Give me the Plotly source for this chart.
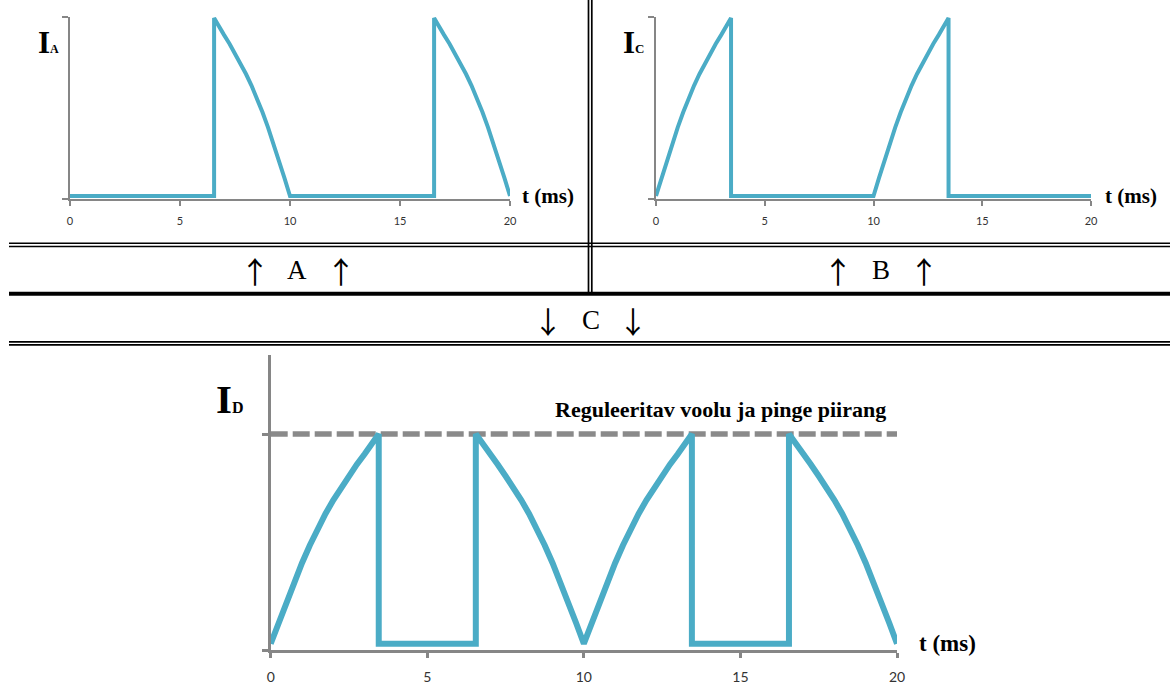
import plotly.graph_objects as go

# ---- waveform data (time in ms, current in relative units) ----
# Rising part of a conduction interval (start of half-period up to cut-off)
rise_t = [0.0, 0.25, 0.5, 0.75, 1.0, 1.25, 1.5, 1.75, 2.0, 2.25, 2.5, 2.75, 3.0, 3.25, 3.45]
rise_i = [0.0, 0.10, 0.20, 0.295, 0.385, 0.47, 0.55, 0.62, 0.685, 0.745, 0.80, 0.855, 0.905, 0.955, 1.0]
# Falling part of a conduction interval (firing angle up to end of half-period)
fall_t = [6.55, 6.75, 7.0, 7.25, 7.5, 7.75, 8.0, 8.25, 8.5, 8.75, 9.0, 9.25, 9.5, 9.75, 10.0]
fall_i = [1.0, 0.955, 0.905, 0.855, 0.80, 0.745, 0.685, 0.62, 0.55, 0.47, 0.385, 0.295, 0.20, 0.10, 0.0]

# Second half-period (10–20 ms) of the same waveforms
rise2_t = [10.0, 10.25, 10.5, 10.75, 11.0, 11.25, 11.5, 11.75, 12.0, 12.25, 12.5, 12.75, 13.0, 13.25, 13.45]
fall2_t = [16.55, 16.75, 17.0, 17.25, 17.5, 17.75, 18.0, 18.25, 18.5, 18.75, 19.0, 19.25, 19.5, 19.75, 20.0]

# Adjustable current / voltage limit level
limit_t = [0.0, 20.0]
limit_i = [1.0, 1.0]

x_ticks = [0, 5, 10, 15, 20]
x_tick_text = ["0", "5", "10", "15", "20"]

# Thyristor A: off, then the falling conduction part, in both half-periods
ia_t = [0.0] + fall_t[:1] + fall_t + fall2_t[:1] + fall2_t
ia_i = [0.0] + [0.0] + fall_i + [0.0] + fall_i
# Thyristor C: the rising conduction part, then off, in both half-periods
ic_t = rise_t + rise_t[-1:] + rise2_t + rise2_t[-1:] + [20.0]
ic_i = rise_i + [0.0] + rise_i + [0.0] + [0.0]
# Load current D: both thyristors together
id_t = rise_t + rise_t[-1:] + fall_t[:1] + fall_t + rise2_t[1:] + rise2_t[-1:] + fall2_t[:1] + fall2_t
id_i = rise_i + [0.0] + [0.0] + fall_i + rise_i[1:] + [0.0] + [0.0] + fall_i

W, H = 1170, 687
WAVE = "#4BACC6"
AXIS = "#868686"
SERIF = "Liberation Serif"
SANS = "Lato"


def px(x):
    return x / W


def py(y):
    return 1 - y / H


fig = go.Figure()

fig.add_trace(go.Scatter(x=ia_t, y=ia_i, mode="lines", xaxis="x", yaxis="y",
                         line=dict(color=WAVE, width=4), hoverinfo="skip"))
fig.add_trace(go.Scatter(x=ic_t, y=ic_i, mode="lines", xaxis="x2", yaxis="y2",
                         line=dict(color=WAVE, width=4), hoverinfo="skip"))
fig.add_trace(go.Scatter(x=limit_t, y=limit_i, mode="lines", xaxis="x3", yaxis="y3",
                         line=dict(color="#8A8A8A", width=5.5, dash="17px,5px"),
                         hoverinfo="skip"))
fig.add_trace(go.Scatter(x=id_t, y=id_i, mode="lines", xaxis="x3", yaxis="y3",
                         line=dict(color=WAVE, width=6), hoverinfo="skip"))


def x_axis(domain, anchor, size, standoff, lw):
    return dict(domain=domain, anchor=anchor, range=[0, 20], showgrid=False,
                zeroline=False, showline=True, linecolor=AXIS, linewidth=lw,
                tickmode="array", tickvals=x_ticks, ticktext=x_tick_text,
                ticks="outside", ticklen=5, tickwidth=lw, tickcolor=AXIS,
                ticklabelstandoff=standoff, automargin=False,
                tickfont=dict(family=SANS, size=size, color="#333333"),
                fixedrange=True)


def y_axis(domain, anchor, rng, tickvals, lw):
    return dict(domain=domain, anchor=anchor, range=rng, showgrid=False,
                zeroline=False, showline=True, linecolor=AXIS, linewidth=lw,
                tickmode="array", tickvals=tickvals, showticklabels=False,
                ticks="outside", ticklen=6, tickwidth=lw, tickcolor=AXIS,
                automargin=False, fixedrange=True)


top_dom = [py(199), py(16.7)]
bot_dom = [py(650), py(355)]

fig.update_layout(
    width=W, height=H,
    margin=dict(l=0, r=0, t=0, b=0, pad=0, autoexpand=False),
    paper_bgcolor="white", plot_bgcolor="white",
    showlegend=False,
    xaxis=x_axis([px(70), px(510)], "y", 11, 6, 2),
    yaxis=y_axis(top_dom, "x", [-0.017, 1.007], [-0.017, 1.007], 2),
    xaxis2=x_axis([px(656), px(1091)], "y2", 11, 6, 2),
    yaxis2=y_axis(top_dom, "x2", [-0.017, 1.007], [-0.017, 1.007], 2),
    xaxis3=x_axis([px(270.7), px(897)], "y3", 14, 7, 2.5),
    yaxis3=y_axis(bot_dom, "x3", [-0.030, 1.377], [-0.030, 1.0], 2.5),
)

# ---- table-style separator lines ----
shapes = []


def hline(y, w, x0=9, x1=W):
    shapes.append(dict(type="line", xref="paper", yref="paper",
                       x0=px(x0), x1=px(x1), y0=py(y), y1=py(y),
                       line=dict(color="black", width=w)))


def vline(x, w, y0=0, y1=292):
    shapes.append(dict(type="line", xref="paper", yref="paper",
                       x0=px(x), x1=px(x), y0=py(y0), y1=py(y1),
                       line=dict(color="black", width=w)))


hline(243.3, 1.6)
hline(246.5, 1.6)
hline(293.7, 4)
hline(341.8, 1.7)
hline(344.9, 1.7)
vline(588.5, 1.7)
vline(591.8, 1.7)
fig.update_layout(shapes=shapes)

# ---- text ----
ann = []


def text(x, y, s, size, family=SERIF, xanchor="left", yanchor="middle", color="black"):
    ann.append(dict(xref="paper", yref="paper", x=px(x), y=py(y), text=s,
                    showarrow=False, xanchor=xanchor, yanchor=yanchor,
                    borderpad=0, font=dict(family=family, size=size, color=color)))


def current_label(x, y, sub, big, small):
    text(x, y, "<b>I<span style='font-size:%dpx'>%s</span></b>" % (small, sub), big)


current_label(37, 42, "A", 31, 12)
current_label(622, 42, "C", 31, 13)
current_label(215, 399, "D", 41, 16)

text(521, 196, "<b>t (ms)</b>", 21)
text(1104, 196, "<b>t (ms)</b>", 21)
text(918, 643, "<b>t (ms)</b>", 23)
text(720, 409, "<b>Reguleeritav voolu ja pinge piirang</b>", 22, xanchor="center")

ARROWS = "Noto Sans CJK JP"
for x, s, y, fam in [(255, "↑", 270, ARROWS), (297, "A", 270, SERIF), (341, "↑", 270, ARROWS),
                     (838, "↑", 270, ARROWS), (881, "B", 270, SERIF), (924, "↑", 270, ARROWS),
                     (548, "↓", 320, ARROWS), (591, "C", 320, SERIF), (633, "↓", 320, ARROWS)]:
    text(x, y, s, 30 if fam == ARROWS else 27, family=fam, xanchor="center")

fig.update_layout(annotations=ann)

fig.write_html("out.html")
